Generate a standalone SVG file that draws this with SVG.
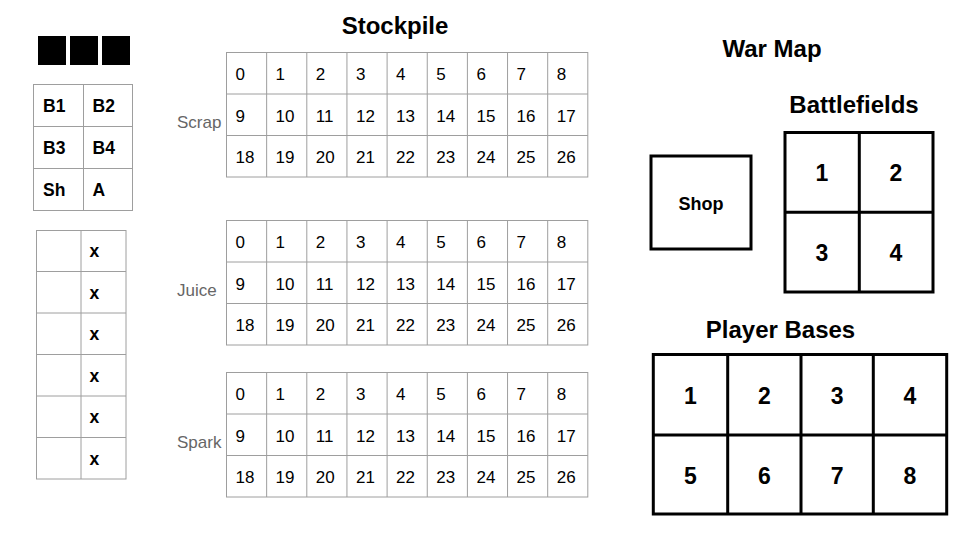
<svg xmlns="http://www.w3.org/2000/svg" width="960" height="540" viewBox="0 0 960 540">
<style>
text{font-family:"Liberation Sans",Arial,sans-serif;fill:#000}
.grid{fill:none;stroke:#9e9e9e;stroke-width:1}
.bold{stroke:#000;stroke-width:3;fill:none}
.title{font-size:24px;font-weight:bold;text-anchor:middle}
.num{font-size:17px}
.lbl{font-size:17px;fill:#666}
.bl{font-size:17.5px;font-weight:bold}
.big{font-size:23px;font-weight:bold;text-anchor:middle}
.shop{font-size:18px;font-weight:bold;text-anchor:middle}
</style>
<defs>
<g id="stockgrid">
<rect class="grid" x="226.5" y="0" width="361.3" height="124.5"/>
<path class="grid" d="M226.5 41.5H587.8M226.5 83H587.8M266.65 0V124.5M306.8 0V124.5M346.95 0V124.5M387.1 0V124.5M427.25 0V124.5M467.4 0V124.5M507.55 0V124.5M547.7 0V124.5"/>
</g>
<g id="stocknums" class="num">
<text x="235.5" y="27.5">0</text><text x="275.5" y="27.5">1</text><text x="315.8" y="27.5">2</text><text x="356" y="27.5">3</text><text x="396.1" y="27.5">4</text><text x="436.3" y="27.5">5</text><text x="476.5" y="27.5">6</text><text x="516.5" y="27.5">7</text><text x="556.7" y="27.5">8</text>
<text x="235.5" y="69">9</text><text x="275.5" y="69">10</text><text x="315.8" y="69">11</text><text x="356" y="69">12</text><text x="396.1" y="69">13</text><text x="436.3" y="69">14</text><text x="476.5" y="69">15</text><text x="516.5" y="69">16</text><text x="556.7" y="69">17</text>
<text x="235.5" y="110.5">18</text><text x="275.5" y="110.5">19</text><text x="315.8" y="110.5">20</text><text x="356" y="110.5">21</text><text x="396.1" y="110.5">22</text><text x="436.3" y="110.5">23</text><text x="476.5" y="110.5">24</text><text x="516.5" y="110.5">25</text><text x="556.7" y="110.5">26</text>
</g>
</defs>

<g id="connectors"/>

<g id="status-squares">
<rect x="38" y="36" width="28" height="29" fill="#000"/>
<rect x="70" y="36" width="28" height="29" fill="#000"/>
<rect x="102" y="36" width="28" height="29" fill="#000"/>
</g>

<g id="location-legend">
<rect class="grid" x="33.5" y="84.5" width="99" height="126"/>
<path class="grid" d="M33.5 126.5H132.5M33.5 168.5H132.5M83.5 84.5V210.5"/>
<text class="bl" x="43" y="111.5">B1</text><text class="bl" x="92.5" y="111.5">B2</text>
<text class="bl" x="43" y="153.5">B3</text><text class="bl" x="92.5" y="153.5">B4</text>
<text class="bl" x="43" y="195.5">Sh</text><text class="bl" x="92.5" y="195.5">A</text>
</g>

<g id="x-list">
<rect class="grid" x="36.5" y="230.5" width="89.5" height="248.5"/>
<path class="grid" d="M36.5 271.5H126M36.5 313H126M36.5 354.5H126M36.5 396H126M36.5 437.5H126M81 230.5V479"/>
<text class="bl" x="89.5" y="257">x</text>
<text class="bl" x="89.5" y="298.5">x</text>
<text class="bl" x="89.5" y="340">x</text>
<text class="bl" x="89.5" y="381.5">x</text>
<text class="bl" x="89.5" y="423">x</text>
<text class="bl" x="89.5" y="464.5">x</text>
</g>

<g id="stockpile-title"><text class="title" x="395" y="34">Stockpile</text></g>

<g id="stockpile-scrap">
<use href="#stockgrid" transform="translate(0,52.5)"/>
<use href="#stocknums" transform="translate(0,52.5)"/>
<text class="lbl" x="177" y="128">Scrap</text>
</g>

<g id="stockpile-juice">
<use href="#stockgrid" transform="translate(0,220.5)"/>
<use href="#stocknums" transform="translate(0,220.5)"/>
<text class="lbl" x="177" y="296">Juice</text>
</g>

<g id="stockpile-spark">
<use href="#stockgrid" transform="translate(0,372.5)"/>
<use href="#stocknums" transform="translate(0,372.5)"/>
<text class="lbl" x="177" y="448">Spark</text>
</g>

<g id="war-map-title"><text class="title" x="772" y="57">War Map</text></g>

<g id="shop">
<rect class="bold" x="651" y="156" width="100" height="93"/>
<text class="shop" x="701" y="210">Shop</text>
</g>

<g id="battlefields">
<text class="title" x="854" y="113">Battlefields</text>
<rect class="bold" x="785" y="132.5" width="148" height="159.5"/>
<path class="bold" d="M859.3 132.5V292M785 212.3H933"/>
<text class="big" x="822" y="181">1</text><text class="big" x="896" y="181">2</text>
<text class="big" x="822" y="261">3</text><text class="big" x="896" y="261">4</text>
</g>

<g id="player-bases">
<text class="title" x="780.5" y="338">Player Bases</text>
<rect class="bold" x="653.3" y="354.5" width="293.4" height="159.5"/>
<path class="bold" d="M727.7 354.5V514M801 354.5V514M873.3 354.5V514M653.3 435H946.7"/>
<text class="big" x="690.5" y="404">1</text><text class="big" x="764.3" y="404">2</text><text class="big" x="837.2" y="404">3</text><text class="big" x="910" y="404">4</text>
<text class="big" x="690.5" y="483.5">5</text><text class="big" x="764.3" y="483.5">6</text><text class="big" x="837.2" y="483.5">7</text><text class="big" x="910" y="483.5">8</text>
</g>
</svg>
